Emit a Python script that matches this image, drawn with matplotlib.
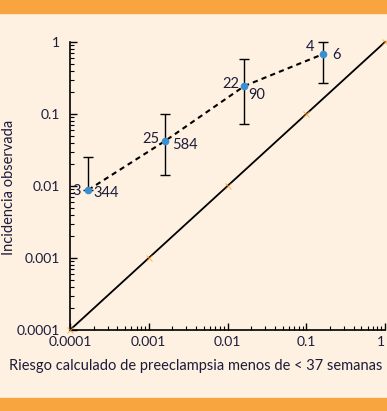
import matplotlib
matplotlib.use('Agg')
import matplotlib.pyplot as plt
import numpy as np

plt.rcParams['font.family'] = ['Lato', 'DejaVu Sans']

# valores
riesgo = [0.00017, 0.0016, 0.0164, 0.164]
incidencia = [0.0088, 0.042, 0.245, 0.68]
ic_sup = [0.025, 0.1, 0.58, 1.0]
ic_inf = [0.0088, 0.014, 0.072, 0.27]
n_casos = ['3', '25', '22', '4']
n_total = ['344', '584', '90', '6']
decadas = [0.0001, 0.001, 0.01, 0.1, 1]
etiquetas = ['0.0001', '0.001', '0.01', '0.1', '1']

BG = '#FEF1E2'
ORANGE = '#F9A53F'
TEXT = '#1c1c3a'
BLUE = '#3a8fd0'

fig = plt.figure(figsize=(3.87, 4.11), dpi=100, facecolor=BG)
fig.patches.append(plt.Rectangle((0, 1 - 13 / 411), 1, 13 / 411, transform=fig.transFigure,
                                 color=ORANGE, zorder=0))
fig.patches.append(plt.Rectangle((0, 0), 1, 13 / 411, transform=fig.transFigure,
                                 color=ORANGE, zorder=0))

ax = fig.add_axes([70 / 387, 1 - 330 / 411, 315 / 387, 288 / 411])
ax.set_facecolor(BG)
ax.set_xscale('log')
ax.set_yscale('log')
ax.set_xlim(0.0001, 1)
ax.set_ylim(0.0001, 1)

# linea de identidad
ax.plot(decadas, decadas, color='black', lw=1.3, zorder=2, clip_on=False)
ax.plot(decadas, decadas, ls='none', marker='x', color=ORANGE, ms=5, mew=0.7,
        alpha=0.8, zorder=3, clip_on=False)

x = np.array(riesgo)
y = np.array(incidencia)
yerr = [y - np.array(ic_inf), np.array(ic_sup) - y]
ax.plot(x, y, ls=(0, (2.5, 2)), color='black', lw=1.5, zorder=3)
ax.errorbar(x, y, yerr=yerr, fmt='none', ecolor='black', elinewidth=1.0,
            capsize=3.5, capthick=1.0, zorder=4, clip_on=False)
ax.plot(x, y, ls='none', marker='o', color=BLUE, ms=4.5, zorder=5, clip_on=False)

offs_l = [(-5.5, -0.7), (-4, 1.5), (-4, 1.5), (-6.5, 5)]
offs_r = [(4, -2), (5, -3), (3, -6.5), (6.5, -0.7)]
for xi, yi, a, b, ol, orr in zip(x, y, n_casos, n_total, offs_l, offs_r):
    ax.annotate(a, (xi, yi), xytext=ol, textcoords='offset points', ha='right',
                va='center', fontsize=10.5, color=TEXT)
    ax.annotate(b, (xi, yi), xytext=orr, textcoords='offset points', ha='left',
                va='center', fontsize=10.5, color=TEXT)

for s in ['top', 'right']:
    ax.spines[s].set_visible(False)
for s in ['left', 'bottom']:
    ax.spines[s].set_linewidth(1.2)
ax.set_xticks(decadas)
ax.set_xticklabels(etiquetas)
ax.set_yticks(decadas)
ax.set_yticklabels(etiquetas)
ax.tick_params(which='both', direction='in', colors='black', labelcolor=TEXT, labelsize=10)
ax.tick_params(which='major', length=5, width=1)
ax.tick_params(which='minor', length=3, width=0.8)
ax.tick_params(axis='x', pad=4)
ax.tick_params(axis='y', pad=7)
ax.get_xticklabels()[-1].set_ha('right')

fig.text(196 / 387, 1 - 366 / 411, 'Riesgo calculado de preeclampsia menos de < 37 semanas',
         fontsize=10.5, color=TEXT, ha='center', va='center')
fig.text(9 / 387, 1 - 187 / 411, 'Incidencia observada', fontsize=10.5, color=TEXT,
         ha='center', va='center', rotation=90)

fig.savefig('out.png', dpi=100, facecolor=BG)
